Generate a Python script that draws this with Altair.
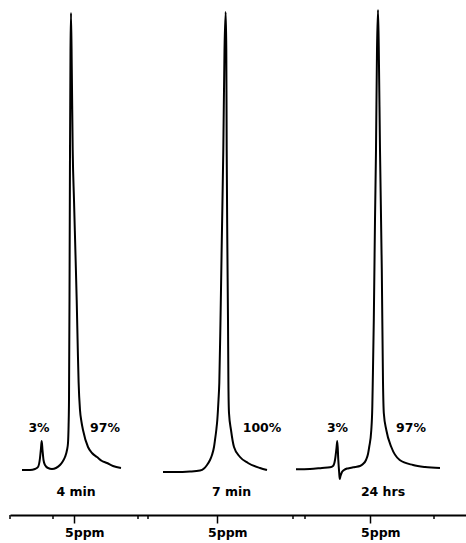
import altair as alt
import pandas as pd

# Recorder traces: chart position along the sweep and signal height above baseline.
# 4 min spectrum
MIN4_POS = [22, 30, 35, 38, 40, 41, 41.7, 42.5, 43.5, 45, 48, 52, 56, 60, 63, 65, 67, 68, 68.6, 69,
            69.5, 70, 70.5, 71, 71.8, 72.7, 74, 75.5, 76.7, 77.8, 78.6, 80, 81.5, 83, 88, 92, 97, 102,
            107, 113, 121]
MIN4_AMP = [0, 0, 1, 3, 12, 22, 29, 20, 10, 5, 2, 1, 2, 5, 9, 13, 20, 27, 45, 70,
            170, 320, 420, 457, 400, 320, 270, 215, 170, 120, 88, 60, 48, 40, 23, 17, 13, 9,
            7, 4, 2]

# 7 min spectrum
MIN7_POS = [163, 175, 190, 200, 204, 207, 210, 212, 214, 215, 216.3, 217.3, 218.5, 219.3, 220.5, 221.8,
            223.3, 224.5, 225.7, 226.3, 226.7, 227.3, 228, 228.4, 229, 231, 234, 240, 248, 260, 267]
MIN7_AMP = [-2, -2, -1.5, -0.5, 1.5, 5, 10, 15, 23, 30, 40, 50, 70, 87, 150, 230,
            320, 420, 458, 420, 320, 230, 150, 88, 57, 40, 23, 13, 7, 2, 0]

# 24 hrs spectrum
HRS24_POS = [296, 310, 322, 330, 333, 335, 336.5, 337.3, 338.3, 339.2, 339.7, 340.5, 342, 344, 347, 350,
             355, 360, 363, 366, 368, 369.2, 371.3, 372.3, 372.8, 373.8, 375, 376, 377, 378, 378.8, 380,
             381.8, 383, 383.8, 386.3, 391.3, 399.7, 413, 425, 440]
HRS24_AMP = [0.7, 1, 2, 2.7, 4, 10, 22, 29, 10, -3, -9, -6, -2, 0, 1.5, 2,
             3, 4, 6, 10, 16, 23, 40, 63, 90, 150, 250, 320, 420, 460, 420, 320,
             200, 88, 57, 40, 23, 10, 5, 3, 2]

# Integration labels
PCT_POS = [39, 105, 262, 337.5, 411]
PCT_AMP = [42, 42, 42, 42, 42]
PCT_TEXT = ["3%", "97%", "100%", "3%", "97%"]

# Time labels under each trace
TIME_POS = [76, 231.5, 383]
TIME_AMP = [-22, -22, -22]
TIME_TEXT = ["4 min", "7 min", "24 hrs"]

# Chemical-shift scale
PPM_MARKS = [74, 217, 370]
PPM_TEXT = ["5ppm", "5ppm", "5ppm"]
MINOR_MARKS = [10, 53, 138, 148, 293, 305, 434]

FONT = "DejaVu Sans"
FONT_SIZE = 12.5

rows = []
for name, xs, ys in [("4 min", MIN4_POS, MIN4_AMP),
                     ("7 min", MIN7_POS, MIN7_AMP),
                     ("24 hrs", HRS24_POS, HRS24_AMP)]:
    for i, (x, y) in enumerate(zip(xs, ys)):
        rows.append({"trace": name, "idx": i, "pos": x, "amp": y})
traces = pd.DataFrame(rows)

labels = pd.DataFrame({
    "pos": PCT_POS + TIME_POS,
    "amp": PCT_AMP + TIME_AMP,
    "text": PCT_TEXT + TIME_TEXT,
})
minor = pd.DataFrame({"pos": MINOR_MARKS})
ppm = pd.DataFrame({"pos": PPM_MARKS, "text": PPM_TEXT})

x_scale = alt.Scale(domain=[10, 466], nice=False, zero=False)
y_scale = alt.Scale(domain=[-45, 467], nice=False, zero=False)

x_axis = alt.Axis(
    values=PPM_MARKS,
    labels=False,
    title=None,
    grid=False,
    domainColor="black",
    domainWidth=2,
    tickColor="black",
    tickWidth=1.5,
    tickSize=8,
)

lines = alt.Chart(traces).mark_line(
    color="black", strokeWidth=2, interpolate="monotone"
).encode(
    x=alt.X("pos:Q", scale=x_scale, axis=x_axis),
    y=alt.Y("amp:Q", scale=y_scale, axis=None),
    detail="trace:N",
    order="idx:Q",
)

text = alt.Chart(labels).mark_text(
    font=FONT, fontWeight="bold", fontSize=FONT_SIZE, color="black",
    align="center", baseline="middle"
).encode(
    x=alt.X("pos:Q", scale=x_scale),
    y=alt.Y("amp:Q", scale=y_scale),
    text="text:N",
)

# "5ppm" captions sit slightly right of their tick
ppm_text = alt.Chart(ppm).mark_text(
    font=FONT, fontWeight="bold", fontSize=FONT_SIZE, color="black",
    align="left", baseline="alphabetic", dx=-9
).encode(
    x=alt.X("pos:Q", scale=x_scale),
    y=alt.value(534),
    text="text:N",
)

minor_ticks = alt.Chart(minor).mark_rule(
    color="black", strokeWidth=1.5, clip=False
).encode(
    x=alt.X("pos:Q", scale=x_scale),
    y=alt.value(512),
    y2=alt.value(516),
)

chart = alt.layer(lines, text, ppm_text, minor_ticks).properties(
    width=456,
    height=512,
    padding={"left": 10, "top": 3, "right": 0, "bottom": 28},
    autosize=alt.AutoSizeParams(type="none"),
    background="white",
).configure_view(stroke=None)

chart.save("out.html", embed_options={"renderer": "svg", "actions": False})
